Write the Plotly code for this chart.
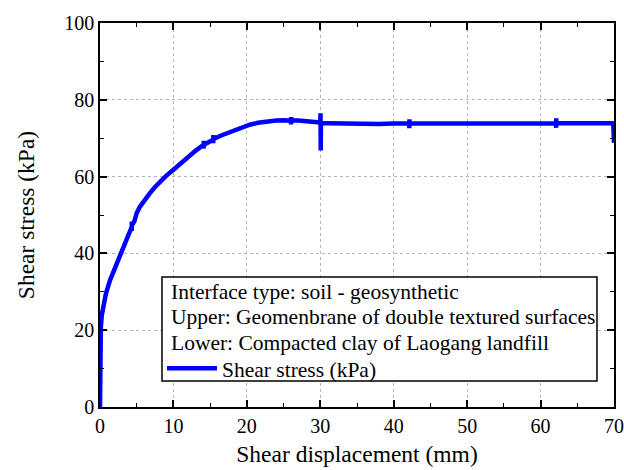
import plotly.graph_objects as go

# Shear displacement (mm)
disp = [0, 0.02, 0.06, 0.12, 0.25, 0.45, 0.8, 1.36, 2.0, 2.5, 3.0, 3.5, 4.0, 4.3,
        4.32, 4.33, 4.35, 4.7, 5.0, 5.45, 6.0, 6.8, 7.5, 8.17, 9.0, 10, 11, 11.8, 13,
        14.1, 14.12, 14.14, 14.16, 15.4, 15.42, 15.44, 15.46, 16.5, 18.2, 19.3, 20.4,
        21.5, 22.7, 24, 25, 26.0, 26.02, 26.04, 26.06, 27, 28, 29.5, 30.0, 30.03, 30.06,
        30.09, 31, 33, 35, 38, 40, 42.1, 42.12, 42.14, 42.16, 45, 48, 50, 52, 55, 58, 60,
        62.1, 62.12, 62.14, 62.16, 64, 66, 68, 69.9, 70]
# Shear stress (kPa)
stress = [0, 10, 17, 21, 24, 26.5, 29.5, 33, 36, 38.3, 41, 43.3, 45.3, 46.8,
          45.8, 48.3, 47.3, 48.5, 50.5, 52.2, 53.8, 55.7, 57.3, 58.7, 60.2, 61.8, 63.5, 64.8, 66.7,
          68.3, 67.3, 69.3, 68.3, 69.6, 68.7, 70.8, 69.8, 70.7, 72.0, 72.9, 73.5,
          74.0, 74.4, 74.6, 74.7, 74.6, 73.6, 75.5, 74.6, 74.6, 74.5, 74.3, 74.1, 76.5, 66.8,
          73.9, 73.9, 73.8, 73.7, 73.7, 73.8, 73.8, 72.6, 74.9, 73.8, 73.8, 73.9, 73.9, 73.8, 73.8, 73.9, 73.9,
          73.9, 72.7, 75.2, 73.9, 73.9, 73.9, 73.9, 73.9, 68.8]

legend_lines = ["Interface type: soil - geosynthetic",
                "Upper: Geomenbrane of double textured surfaces",
                "Lower: Compacted clay of Laogang landfill"]
series_name = "Shear stress (kPa)"

FONT = "Times New Roman, Liberation Serif, serif"

fig = go.Figure()
fig.add_trace(go.Scatter(x=disp, y=stress, mode="lines", name=series_name,
                         line=dict(color="#0000ff", width=4.5), showlegend=True))

axis_common = dict(
    showline=True, linecolor="black", linewidth=1.5, mirror="ticks",
    ticks="inside", ticklen=7, tickwidth=1.5, tickcolor="black",
    showgrid=True, gridcolor="#b4b4b4", griddash="dot", gridwidth=1,
    zeroline=False, automargin=False,
    tickfont=dict(family=FONT, size=20, color="black"),
)

fig.update_xaxes(range=[0, 70], dtick=10, title=dict(text="Shear displacement (mm)",
                 font=dict(family=FONT, size=23.5, color="black"), standoff=10),
                 minor=dict(ticks="inside", ticklen=4, tickwidth=1.2, tickcolor="black",
                            dtick=5, showgrid=False),
                 **axis_common)
fig.update_yaxes(range=[0, 100], dtick=20, title=dict(text="Shear stress (kPa)",
                 font=dict(family=FONT, size=23.5, color="black"), standoff=23),
                 minor=dict(ticks="inside", ticklen=4, tickwidth=1.2, tickcolor="black",
                            dtick=10, showgrid=False),
                 **axis_common)

# legend box (paper coordinates of the plot area)
fig.add_shape(type="rect", xref="paper", yref="paper",
              x0=0.1206, x1=0.9669, y0=0.0677, y1=0.3385,
              line=dict(color="black", width=1.5), fillcolor="white", layer="above")
for i, (txt, yy) in enumerate(zip(legend_lines, [0.3003, 0.2336, 0.1659])):
    fig.add_annotation(text=txt, xref="paper", yref="paper", x=0.1342, y=yy,
                       xanchor="left", yanchor="middle", showarrow=False,
                       font=dict(family=FONT, size=21.5, color="black"))

fig.update_layout(
    width=624, height=470,
    margin=dict(l=100, r=10, t=23, b=63),
    paper_bgcolor="white", plot_bgcolor="white",
    font=dict(family=FONT, size=20, color="black"),
    legend=dict(
        x=0.1206, y=0.1008, xanchor="left", yanchor="middle",
        borderwidth=0, bgcolor="rgba(0,0,0,0)",
        font=dict(family=FONT, size=21.5, color="black"),
        tracegroupgap=0, itemwidth=50,
    ),
)

fig.write_html("out.html", post_script="document.body.style.margin='0';",
               config={"displayModeBar": False})
